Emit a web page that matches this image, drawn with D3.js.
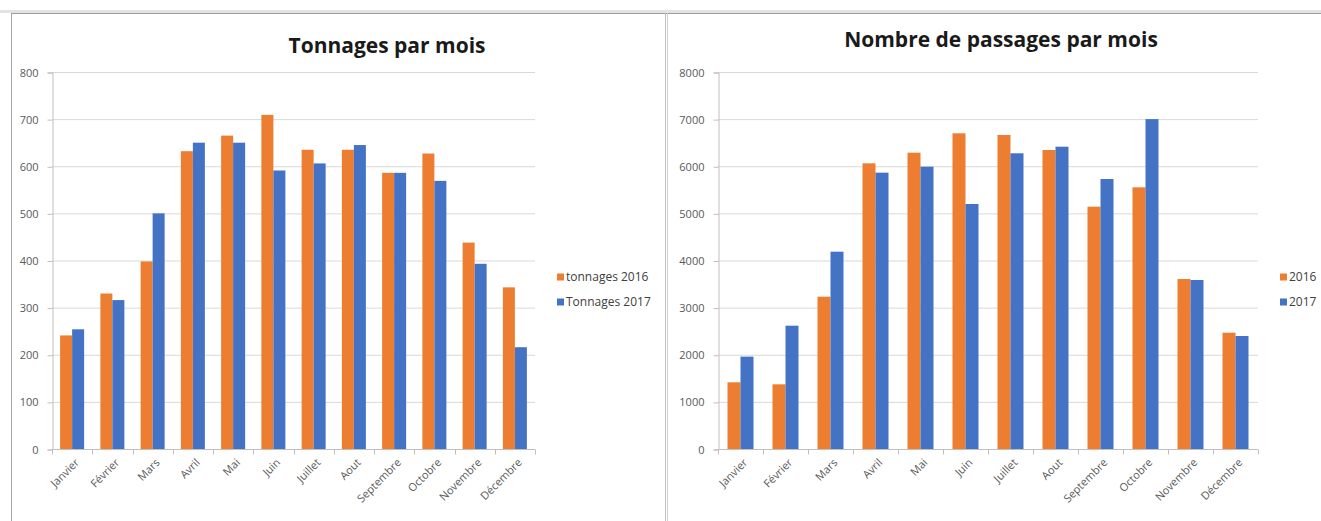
<!DOCTYPE html>
<html>
<head>
<meta charset="utf-8">
<script src="https://cdn.jsdelivr.net/npm/d3@7"></script>
<style>
  body { margin: 0; background: #fff; }
  svg { display: block; font-family: "Open Sans", "Liberation Sans", sans-serif; }
</style>
</head>
<body>
<svg id="chart" width="1321" height="521"></svg>
<script>
const months = ["Janvier", "Février", "Mars", "Avril", "Mai", "Juin", "Juillet",
  "Aout", "Septembre", "Octobre", "Novembre", "Décembre"];

const tonnages2016 = [241, 330, 398, 632, 665, 709, 635, 635, 586, 627, 438, 343];
const tonnages2017 = [254, 316, 500, 650, 650, 591, 606, 645, 586, 569, 393, 216];

const passages2016 = [1415, 1372, 3232, 6062, 6288, 6699, 6663, 6345, 5142, 5553, 3607, 2468];
const passages2017 = [1960, 2617, 4187, 5864, 5991, 5199, 6275, 6415, 5729, 7000, 3586, 2398];

const tonnageTicks = [0, 100, 200, 300, 400, 500, 600, 700, 800];
const passageTicks = [0, 1000, 2000, 3000, 4000, 5000, 6000, 7000, 8000];

const ORANGE = "#ED7D31";
const BLUE = "#4472C4";

const svg = d3.select("#chart");

// panel frames (two excel charts side by side)
svg.append("line").attr("x1", 0).attr("x2", 1321).attr("y1", 11.5).attr("y2", 11.5)
  .attr("stroke", "#e3e3e3").attr("stroke-width", 3);
svg.append("line").attr("x1", 11).attr("x2", 1321).attr("y1", 13.5).attr("y2", 13.5)
  .attr("stroke", "#9a9a9a");
svg.append("line").attr("x1", 11.5).attr("x2", 11.5).attr("y1", 13).attr("y2", 521)
  .attr("stroke", "#a6a6a6");
svg.append("line").attr("x1", 665.5).attr("x2", 665.5).attr("y1", 13).attr("y2", 521)
  .attr("stroke", "#bfbfbf");
svg.append("line").attr("x1", 667.5).attr("x2", 667.5).attr("y1", 13).attr("y2", 521)
  .attr("stroke", "#d0d0d0");

const drawChart = (cfg) => {
  const g = svg.append("g");

  const x = d3.scaleBand().domain(months).range([cfg.left, cfg.right]);
  const y = d3.scaleLinear().domain([0, cfg.ticks[cfg.ticks.length - 1]]).range([449, 72]);
  const inner = d3.scaleBand().domain(["a", "b"]).range([0, cfg.barW * 2]);

  // gridlines
  g.append("g")
    .selectAll("line")
    .data(cfg.ticks.slice(1))
    .join("line")
    .attr("x1", cfg.left).attr("x2", cfg.right)
    .attr("y1", d => y(d) + 0.5).attr("y2", d => y(d) + 0.5)
    .attr("stroke", "#d9d9d9");

  // y axis
  const yAxis = g.append("g")
    .attr("transform", `translate(${cfg.left + 0.5},0.5)`)
    .call(d3.axisLeft(y).tickValues(cfg.ticks).tickFormat(d3.format("d"))
      .tickSize(5).tickPadding(9));
  yAxis.select(".domain").attr("stroke", "#bfbfbf");
  yAxis.selectAll(".tick line").attr("stroke", "#bfbfbf");
  yAxis.selectAll(".tick text")
    .attr("fill", "#595959")
    .style("font-size", "11px")
    .style("font-family", "'Open Sans', sans-serif");

  // x axis with ticks between categories
  const xAxis = g.append("g")
    .attr("transform", `translate(0,${449.5})`);
  xAxis.append("line")
    .attr("x1", cfg.left).attr("x2", cfg.right)
    .attr("stroke", "#bfbfbf");
  xAxis.selectAll(".sep")
    .data(months.concat(["end"]))
    .join("line")
    .attr("class", "sep")
    .attr("x1", (d, i) => Math.round(cfg.left + i * x.bandwidth()) + 0.5)
    .attr("x2", (d, i) => Math.round(cfg.left + i * x.bandwidth()) + 0.5)
    .attr("y1", 0).attr("y2", 5)
    .attr("stroke", "#bfbfbf");
  xAxis.selectAll("text")
    .data(months)
    .join("text")
    .attr("transform", d => `translate(${x(d) + x.bandwidth() / 2 + 5},${11}) rotate(-45)`)
    .attr("text-anchor", "end")
    .attr("dy", "0.35em")
    .attr("fill", "#595959")
    .style("font-size", "11px")
    .text(d => d);

  // bars
  const series = [
    { key: "a", values: cfg.s1, color: ORANGE },
    { key: "b", values: cfg.s2, color: BLUE }
  ];
  series.forEach(s => {
    g.append("g")
      .selectAll("rect")
      .data(s.values)
      .join("rect")
      .attr("x", (d, i) => x(months[i]) + (x.bandwidth() - cfg.barW * 2) / 2 + inner(s.key))
      .attr("y", d => y(d))
      .attr("width", inner.bandwidth())
      .attr("height", d => y(0) - y(d))
      .attr("fill", s.color);
  });

  // title
  g.append("text")
    .attr("x", cfg.titleX).attr("y", cfg.titleY)
    .attr("text-anchor", "middle")
    .attr("fill", "#1a1a1a")
    .style("font-size", "21px")
    .style("font-weight", "bold")
    .text(cfg.title);

  // legend
  const leg = g.append("g").attr("transform", `translate(${cfg.legX},277)`);
  [[cfg.n1, ORANGE], [cfg.n2, BLUE]].forEach(([name, color], i) => {
    leg.append("rect")
      .attr("x", 0).attr("y", i * 25 - 3.5)
      .attr("width", 7).attr("height", 7)
      .attr("fill", color);
    leg.append("text")
      .attr("x", 9).attr("y", i * 25)
      .attr("dy", "0.35em")
      .attr("fill", "#404040")
      .style("font-size", "12px")
      .text(name);
  });
};

drawChart({
  left: 52, right: 535, ticks: tonnageTicks,
  s1: tonnages2016, s2: tonnages2017, barW: 12,
  title: "Tonnages par mois", titleX: 387, titleY: 53,
  legX: 557, n1: "tonnages 2016", n2: "Tonnages 2017"
});

drawChart({
  left: 718, right: 1258, ticks: passageTicks,
  s1: passages2016, s2: passages2017, barW: 13,
  title: "Nombre de passages par mois", titleX: 1001, titleY: 47,
  legX: 1280, n1: "2016", n2: "2017"
});
</script>
</body>
</html>
